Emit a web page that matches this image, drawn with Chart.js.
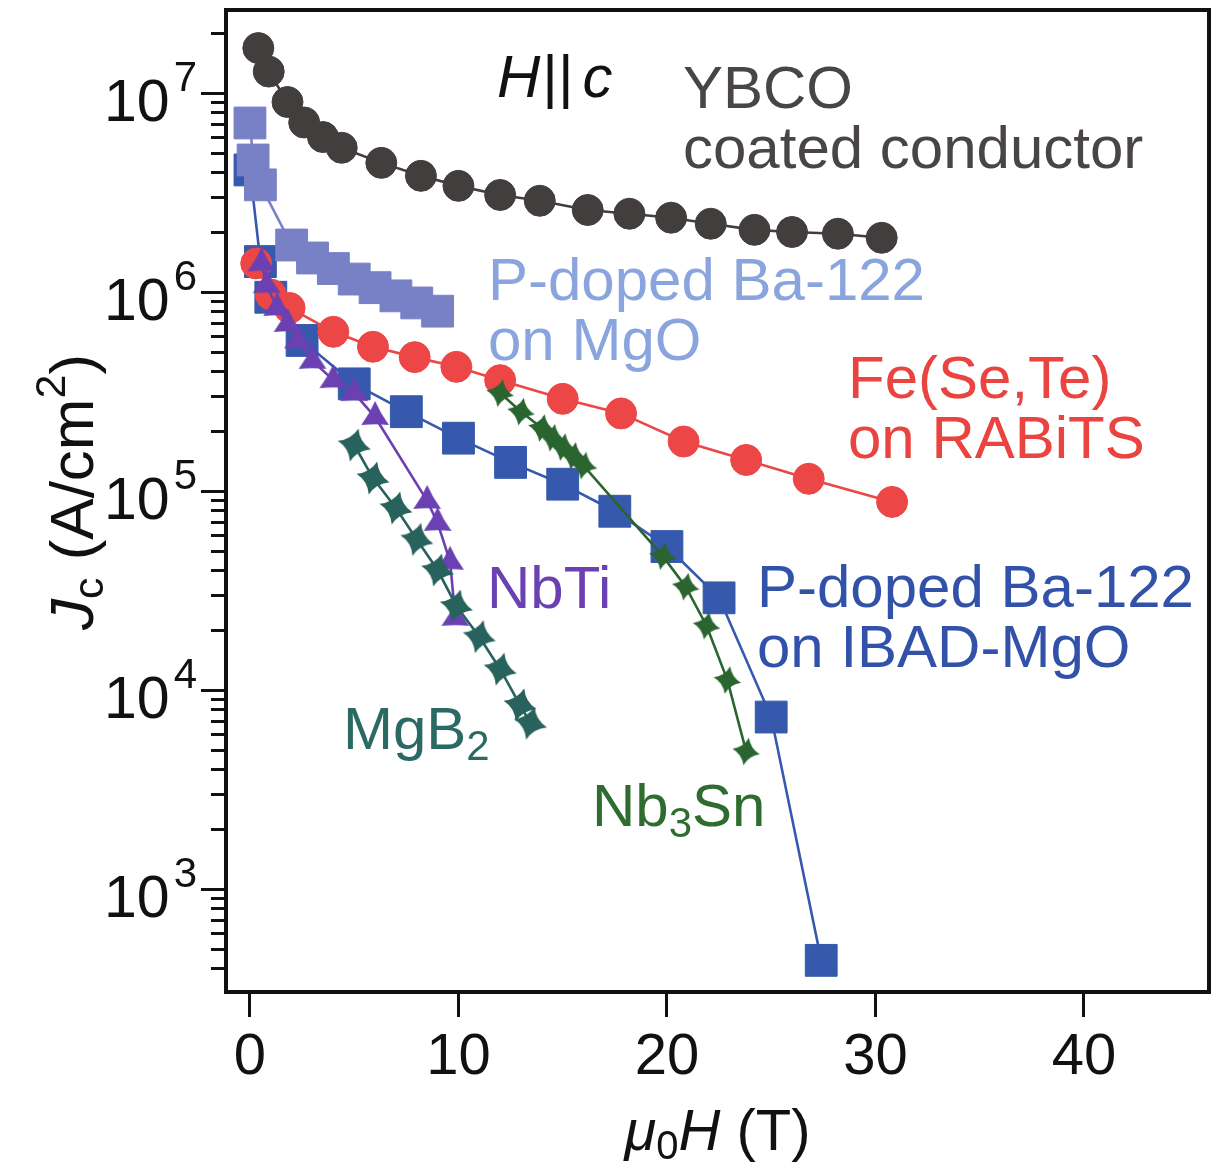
<!DOCTYPE html>
<html>
<head>
<meta charset="utf-8">
<script src="https://cdn.jsdelivr.net/npm/chart.js@4.4.1/dist/chart.umd.min.js"></script>
<style>
  html, body { margin: 0; padding: 0; background: #fff; }
  canvas { display: block; }
</style>
</head>
<body>
<canvas id="jcChart" width="1230" height="1168"></canvas>
<script>
// Jc (A/cm^2) against applied field mu0H (T), field parallel to c
const ybcoField = [0.4, 0.9, 1.8, 2.6, 3.5, 4.4, 6.3, 8.2, 10.0, 12.0, 13.9, 16.2, 18.2, 20.2, 22.1, 24.2, 26.0, 28.2, 30.3];
const ybcoJc = [1.68e7, 1.28e7, 9.0e6, 7.1e6, 6.0e6, 5.3e6, 4.45e6, 3.83e6, 3.41e6, 3.07e6, 2.87e6, 2.58e6, 2.47e6, 2.36e6, 2.20e6, 2.05e6, 2.00e6, 1.96e6, 1.87e6];

const mgoField = [0.0, 0.15, 0.5, 2.0, 3.0, 4.0, 5.0, 6.0, 7.0, 8.0, 9.0];
const mgoJc = [7.06e6, 4.6e6, 3.45e6, 1.72e6, 1.48e6, 1.31e6, 1.16e6, 1.05e6, 9.55e5, 8.8e5, 8.0e5];

const ibadField = [0.0, 0.5, 1.0, 2.5, 5.0, 7.5, 10.0, 12.5, 15.0, 17.5, 20.0, 22.5, 25.0, 27.4];
const ibadJc = [4.1e6, 1.42e6, 9.4e5, 5.7e5, 3.45e5, 2.5e5, 1.84e5, 1.39e5, 1.08e5, 7.9e4, 5.25e4, 2.9e4, 7.3e3, 437];

const feField = [0.3, 1.0, 1.9, 4.0, 5.9, 7.9, 9.9, 12.0, 15.0, 17.8, 20.8, 23.8, 26.8, 30.8];
const feJc = [1.39e6, 9.7e5, 8.3e5, 6.3e5, 5.3e5, 4.7e5, 4.2e5, 3.6e5, 2.9e5, 2.45e5, 1.77e5, 1.43e5, 1.15e5, 8.8e4];

const nbtiField = [0.55, 0.8, 1.3, 1.8, 2.3, 3.0, 4.0, 5.0, 6.0, 8.5, 9.0, 9.6, 9.85];
const nbtiJc = [1.39e6, 1.08e6, 8.3e5, 6.9e5, 5.7e5, 4.5e5, 3.6e5, 3.1e5, 2.35e5, 8.9e4, 6.9e4, 4.4e4, 2.3e4];

const mgb2Field = [5.0, 5.9, 7.0, 8.0, 9.0, 9.9, 11.0, 12.0, 12.95, 13.45];
const mgb2Jc = [1.70e5, 1.16e5, 8.2e4, 5.7e4, 4.0e4, 2.64e4, 1.85e4, 1.27e4, 8.4e3, 6.8e3];

const nb3snField = [12.0, 13.0, 14.0, 14.5, 15.0, 15.5, 16.0, 19.8, 20.9, 21.9, 22.9, 23.8];
const nb3snJc = [3.1e5, 2.5e5, 2.07e5, 1.85e5, 1.66e5, 1.50e5, 1.34e5, 4.7e4, 3.3e4, 2.1e4, 1.12e4, 4.9e3];

const xTicks = [0, 10, 20, 30, 40];
const yDecades = [1e3, 1e4, 1e5, 1e6, 1e7];

const SANS = "'Liberation Sans', Arial, Helvetica, sans-serif";
Chart.defaults.font.family = SANS;

function pts(xs, ys) {
    return xs.map((x, i) => ({ x: x, y: ys[i] }));
}

// filled marker with concave sides: n tips, control point pulled toward the centre
function concaveMarker(n, r, pull, color, rot) {
    const size = Math.ceil(2 * r + 4);
    const c = document.createElement('canvas');
    c.width = c.height = size;
    const g = c.getContext('2d');
    g.translate(size / 2, size / 2);
    g.rotate(rot);
    g.beginPath();
    for (let k = 0; k <= n; k++) {
        const a = -Math.PI / 2 + k * 2 * Math.PI / n;
        const tx = Math.cos(a) * r, ty = Math.sin(a) * r;
        if (k === 0) {
            g.moveTo(tx, ty);
        } else {
            const m = a - Math.PI / n;
            g.quadraticCurveTo(Math.cos(m) * r * pull, Math.sin(m) * r * pull, tx, ty);
        }
    }
    g.closePath();
    g.fillStyle = color;
    g.fill();
    return c;
}

const C_YBCO = '#423e3e';
const C_MGO = '#7881c6';
const C_IBAD = '#3659ad';
const C_FE = '#ec4646';
const C_NBTI = '#6a40b2';
const C_MGB2 = '#27625d';
const C_NB3SN = '#2a6530';

const nbtiMarker = concaveMarker(3, 16, 0.4, C_NBTI, 0);
const mgb2Marker = concaveMarker(4, 17, 0.36, C_MGB2, 0.25);
const nb3snMarker = concaveMarker(4, 14, 0.36, C_NB3SN, 0.2);

function series(label, xs, ys, color, style, radius) {
    return {
        label: label,
        data: pts(xs, ys),
        borderColor: color,
        backgroundColor: color,
        borderWidth: 2.6,
        pointStyle: style,
        pointRadius: radius,
        pointBackgroundColor: color,
        pointBorderColor: color,
        pointBorderWidth: 1,
        showLine: true,
        fill: false,
        tension: 0
    };
}

// frame, y ticks, axis titles and curve labels
const decor = {
    id: 'decor',
    afterDraw(chart) {
        const ctx = chart.ctx;
        const a = chart.chartArea;
        const ys = chart.scales.y;
        ctx.save();
        ctx.strokeStyle = '#111';
        ctx.fillStyle = '#111';

        // y ticks: long at decades, short in between
        ctx.lineWidth = 3;
        for (let d = 100; d <= 1e7; d *= 10) {
            for (let k = 1; k <= 9; k++) {
                const v = k * d;
                if (v < ys.min || v > ys.max) continue;
                const py = Math.round(ys.getPixelForValue(v)) + 0.5;
                const len = k === 1 ? 25 : 15;
                ctx.beginPath();
                ctx.moveTo(a.left - len, py);
                ctx.lineTo(a.left, py);
                ctx.stroke();
            }
        }

        // frame
        ctx.lineWidth = 4;
        ctx.strokeRect(a.left, a.top, a.right - a.left, a.bottom - a.top);

        // y tick labels 10^n
        ctx.textAlign = 'right';
        ctx.textBaseline = 'alphabetic';
        yDecades.forEach(v => {
            const py = ys.getPixelForValue(v);
            const exp = String(Math.round(Math.log10(v)));
            ctx.font = '42px ' + SANS;
            ctx.fillText(exp, 197, py - 2);
            const ew = ctx.measureText(exp).width;
            ctx.font = '59px ' + SANS;
            ctx.fillText('10', 197 - ew - 4, py + 28);
        });

        ctx.textAlign = 'left';
        // x title: mu0 H (T)
        const xTitle = [
            { t: '\u03bc', size: 58, italic: true },
            { t: '0', size: 40, dy: 9 },
            { t: 'H', size: 58, italic: true },
            { t: ' (T)', size: 58 }
        ];
        const xw = runsWidth(ctx, xTitle);
        drawRuns(ctx, xTitle, (a.left + a.right) / 2 - xw / 2, 1150);

        // y title: Jc (A/cm2)
        const yTitle = [
            { t: 'J', size: 62, italic: true },
            { t: 'c', size: 43, dy: 10 },
            { t: ' (A/cm', size: 62 },
            { t: '2', size: 43, dy: -28 },
            { t: ')', size: 62 }
        ];
        const yw = runsWidth(ctx, yTitle);
        ctx.save();
        ctx.translate(93, 492);
        ctx.rotate(-Math.PI / 2);
        drawRuns(ctx, yTitle, -yw / 2, 0);
        ctx.restore();

        // curve labels
        labels.forEach(l => {
            ctx.fillStyle = l.color;
            drawRuns(ctx, l.runs, l.x, l.y);
        });
        ctx.restore();
    }
};

function fontOf(r) {
    return (r.italic ? 'italic ' : '') + r.size + 'px ' + SANS;
}
function runsWidth(ctx, runs) {
    let w = 0;
    runs.forEach(r => {
        ctx.font = fontOf(r);
        w += ctx.measureText(r.t).width + (r.gap || 0);
    });
    return w;
}
function drawRuns(ctx, runs, x, y) {
    let cx = x;
    runs.forEach(r => {
        ctx.font = fontOf(r);
        ctx.fillText(r.t, cx, y + (r.dy || 0));
        cx += ctx.measureText(r.t).width + (r.gap || 0);
    });
}

const labels = [
    { x: 497, y: 97, color: '#111', runs: [
        { t: 'H', size: 60, italic: true, gap: 2 },
        { t: '||', size: 60, gap: 9 },
        { t: 'c', size: 60, italic: true }] },
    { x: 683, y: 108, color: '#4a4545', runs: [{ t: 'YBCO', size: 60 }] },
    { x: 683, y: 168, color: '#4a4545', runs: [{ t: 'coated conductor', size: 60 }] },
    { x: 488, y: 300, color: '#8aa5dd', runs: [{ t: 'P-doped Ba-122', size: 60 }] },
    { x: 488, y: 360, color: '#8aa5dd', runs: [{ t: 'on MgO', size: 60 }] },
    { x: 848, y: 398, color: '#e9443f', runs: [{ t: 'Fe(Se,Te)', size: 60 }] },
    { x: 848, y: 458, color: '#e9443f', runs: [{ t: 'on RABiTS', size: 60 }] },
    { x: 487, y: 608, color: '#6a40b2', runs: [{ t: 'NbTi', size: 60 }] },
    { x: 757, y: 607, color: '#3152a8', runs: [{ t: 'P-doped Ba-122', size: 60 }] },
    { x: 757, y: 667, color: '#3152a8', runs: [{ t: 'on IBAD-MgO', size: 60 }] },
    { x: 343, y: 749, color: '#2b6a64', runs: [
        { t: 'MgB', size: 60 },
        { t: '2', size: 42, dy: 11 }] },
    { x: 592, y: 826, color: '#2e6c30', runs: [
        { t: 'Nb', size: 60 },
        { t: '3', size: 42, dy: 11 },
        { t: 'Sn', size: 60 }] }
];

new Chart(document.getElementById('jcChart'), {
    type: 'line',
    data: {
        // first dataset is painted last (on top)
        datasets: [
            series('YBCO coated conductor', ybcoField, ybcoJc, C_YBCO, 'circle', 15.5),
            series('Nb3Sn', nb3snField, nb3snJc, C_NB3SN, nb3snMarker, 12),
            series('MgB2', mgb2Field, mgb2Jc, C_MGB2, mgb2Marker, 15),
            series('NbTi', nbtiField, nbtiJc, C_NBTI, nbtiMarker, 14),
            series('Fe(Se,Te) on RABiTS', feField, feJc, C_FE, 'circle', 15.5),
            series('P-doped Ba-122 on MgO', mgoField, mgoJc, C_MGO, 'rect', 22.5),
            series('P-doped Ba-122 on IBAD-MgO', ibadField, ibadJc, C_IBAD, 'rect', 22.5)
        ]
    },
    options: {
        responsive: false,
        animation: false,
        devicePixelRatio: 1,
        layout: { autoPadding: false, padding: { top: 10, right: 21, left: 0, bottom: 0 } },
        plugins: {
            legend: { display: false },
            tooltip: { enabled: false }
        },
        scales: {
            x: {
                type: 'linear',
                min: -1.15,
                max: 46,
                afterBuildTicks: function(scale) {
                    scale.ticks = xTicks.map(v => ({ value: v }));
                },
                afterFit: function(scale) {
                    scale.height = 176;
                },
                border: { display: false },
                grid: {
                    display: true,
                    drawOnChartArea: false,
                    drawTicks: true,
                    tickLength: 25,
                    tickWidth: 3,
                    tickColor: '#111'
                },
                ticks: {
                    color: '#111',
                    padding: 6,
                    maxRotation: 0,
                    font: { size: 58 }
                }
            },
            y: {
                type: 'logarithmic',
                min: 303,
                max: 2.61e7,
                afterFit: function(scale) {
                    scale.width = 226;
                },
                border: { display: false },
                grid: { display: false },
                ticks: { display: false }
            }
        }
    },
    plugins: [decor]
});
</script>
</body>
</html>
